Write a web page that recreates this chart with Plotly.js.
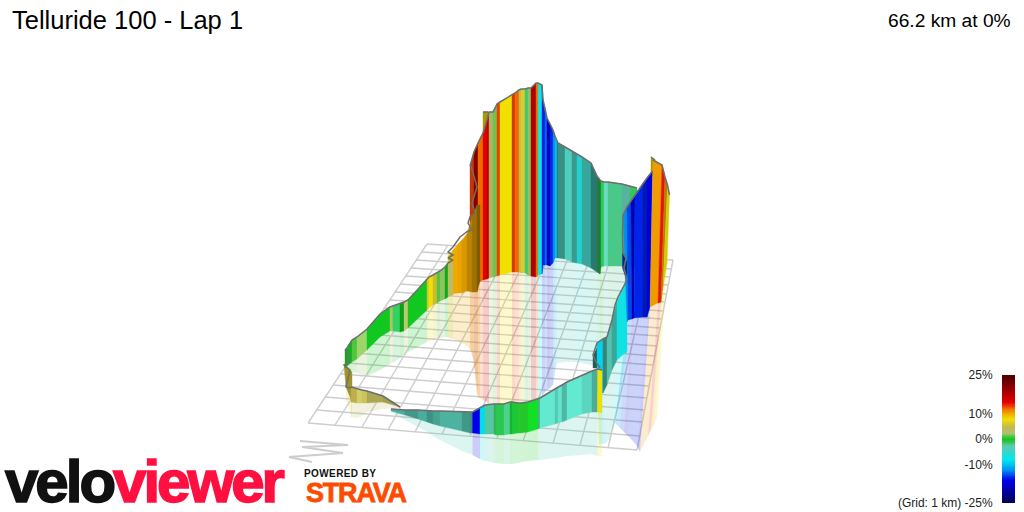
<!DOCTYPE html>
<html><head><meta charset="utf-8">
<script src="https://cdn.plot.ly/plotly-3.0.1.min.js"></script>
<style>html,body{margin:0;padding:0;background:#fff}#g{width:1024px;height:512px}</style></head>
<body><div id="g"></div>
<script>
// Colour scale stops: gradient %, colour
const scaleGrades=[-25,-16,-12,-8,-2.5,0,2.5,5,8,11.5,14.5,18,25];
const scaleColours=['#000050','#0000e8','#0090f0','#00e8f0','#60c8b0','#10c820','#b0c070','#c8b850','#f0e000','#f08000','#e80000','#b00000','#4d0000'];
const barLevels=[25,24,23,22,21,20,19,18,17,16,15,14,13,12,11,10,9,8,7,6,5,4,3,2,1,0,-1,-2,-3,-4,-5,-6,-7,-8,-9,-10,-11,-12,-13,-14,-15,-16,-17,-18,-19,-20,-21,-22,-23,-24,-25];
const barTicks=[25,10,0,-10,-25];
const barLabels=['25%','10%','0%','-10%','(Grid: 1 km) -25%'];

// Ground grid, picture coordinates of its edges
const rowLeftX=[308,317,325,333,341,348,355,361,367,373,379,385,390,395,400,406,411,416,422,427];
const rowLeftY=[423,410,397,385,374,363,353,343,334,325,316,308,300,292,284,276,268,260,252,244];
const rowRightX=[637,640,642,645,647,649,651,653,655,657,659,660,662,663,665,667,668,670,671,673];
const rowRightY=[450,436,422,410,398,386,376,365,356,346,336,328,319,311,302,294,285,277,269,260];
const colFrontX=[308,335,362,388,415,442,470,497,523,553,580,608,637];
const colFrontY=[423,425,427,430,432,434,436,438,441,443,445,448,450];
const colBackX=[427,448,468,488,509,529,550,570,591,611,632,652,673];
const colBackY=[244,245,247,248,249,251,252,253,255,256,257,259,260];

// Back olive fold at top of the main climb
const a0X=[483,488], a0Top=[112,112], a0Bot=[140,140], a0Grade=[8], a0Shade=[0.7];
// Main climb and descent
const aX=[470,474,478,483,487,489,493,497,500,512,515,519,521,525,528,531,536,538,542,543,545,547,550,553,555,557,558,565,572,577,582,591,597,600,601,604,608,622,630,637];
const aTop=[166,152,143,133,120,112,112,104,102,95,93,90,89,89,88,88,83,83,85,100,108,118,124,130,136,142,143,147,151,154,157,163,176,180,181,182,182,184,186,188];
const aBot=[285,285,283,280,279,278,277,276,275,272,272,272,273,273,275,276,277,275,274,265,265,265,266,263,258,258,258,259,262,263,264,268,272,274,267,266,266,266,266,266];
const aGround=[348,362,397,400,402,405,405,405,405,405,405,405,405,405,405,405,405,405,400,395,392,390,388,385,373,363,363,362,362,362,363,365,367,367,365,360,350,340,300,300];
const aGrade=[13,18,12,15,17,3.2,1.5,13,8,13,12,4.5,6.5,-1.5,2,18,12,-7,-15,-15,-13,-19,-15,-12,-10,-4,-3.5,-3.5,-3.5,-6,-4,-4,-1.5,0,-1,-2.5,-1.8,-2.5,-1];
const aShade=[.85,.75,1,1,1,.95,1,1,1,.9,1,1,1,1,1,1,1,1,1,1,1,1,1,1,1,.6,.7,1,.75,.95,.8,.58,.6,.7,1,1.1,1,.9,1];
// Right-hand fold, back
const b0X=[651,655], b0Top=[157,160], b0Bot=[175,175], b0Grade=[8], b0Shade=[.7];
// Right-hand wall, blue side
const b1X=[623,627,631,635,643,647,652.5];
const b1XB=[627,628,632,634,643,647,650];
const b1XG=[615,620,624,628,633,637,640];
const b1Top=[215,207,201,195,183,178,171];
const b1Bot=[322,320,319,318,317,317,307];
const b1Ground=[423,428,432,436,441,446,452];
const b1Grade=[-12,-14,-18,-15,-15,-16];
const b1Shade=[1,1,.9,1,.75,.95];
// Right-hand wall, orange side
const b2X=[653,662,665,667.5,669.5];
const b2XB=[650,658,661,663,667];
const b2XG=[640,648,651,654,657];
const b2Top=[160,165,177,185,195];
const b2Bot=[307,303,302,287,263];
const b2Ground=[452,436,430,425,418];
const b2Grade=[10.5,14,10,8];
const b2Shade=[1,1,.75,.9];
// Cyan descent on the right
const cX=[597,603,607,612,617,625,627];
const cXG=[599,606,609,611,613,615,615];
const cTop=[343,339,337,320,301,284,280];
const cBot=[393,393,385,370,360,353,352];
const cGround=[445,443,440,433,428,423,423];
const cGrade=[-9,-3,-3,-4,-7,-7];
const cShade=[1,.65,.95,.8,1,1];
// Small pieces beside it
const c1X=[597,600], c1Top=[343,341], c1Bot=[349,346], c1Grade=[8], c1Shade=[.95];
const c2X=[593,597,600], c2Top=[356,348,342], c2Bot=[368,368,368], c2Grade=[-3,-3], c2Shade=[.45,.45];
const c3X=[622.5,627], c3Top=[253,262], c3Bot=[268,281], c3Grade=[-14], c3Shade=[.55];
// Front wall
const dX=[472.5,480,485,494,496,504,510,512,518,521,528,538,540,555,558,562,567,582,592,597.5,602];
const dTop=[412,408,405,404,404,404,402,402,403,403,402,399,398,389,387,385,382,375,371,369,370];
const dBot=[433,434,434,434,435,435,434,434,433,433,432,429,428,424,423,422,420,414,412,412,413];
const dGround=[455,459,461,463,463,464,464,464,463,462,461,460,460,458,458,457,456,455,454,456,456];
const dGrade=[-16,-8.5,-2.2,-1.2,-0.8,-1.8,-0.3,-0.4,0.4,0.3,0,-2,-3,-3,-3,-3,-3,-3,-3,8];
const dShade=[1,1,1,.9,1,1.05,.9,1,1,1,1.12,.9,1.15,.98,1.12,.9,1.15,1.05,.85,1];
// Front wedge
const eX=[391,405,418,427,433,440,462,470,472.5];
const eTop=[409,410,410,411,411,411,412,412,412];
const eBot=[411,415,419,422,424,426,431,433,433];
const eGround=[412,420,427,432,436,440,451,454,455];
const eGrade=[-3,-3,-3,-3,-3,-3,-3,-3];
const eShade=[.85,.75,.85,.72,.8,.88,.75,.7];
// Olive wedge on the left
const oX=[351,357,362,367,383,400];
const oTop=[387,389,390,391,396,407];
const oBot=[402,403,403,403,402,407];
const oGround=[417,418,416,412,409,408];
const oGrade=[5,4,4.5,4,4];
const oShade=[.95,1.1,1.05,.9,.85];
const o1X=[344,352], o1XB=[346,352], o1Top=[365,372], o1Bot=[387,402], o1Ground=[400,417], o1Grade=[6], o1Shade=[.75];
// Green wall on the left
const gX=[345,347,352,357,367,380,390,392.7,400,404,408,427,429,433,437,440,445,448,453];
const gTop=[350,348,340,337,329,314,307,306,304,302,300,279,277,275,273,271,267,263,260];
const gBot=[368,366,362,359,350,337,331,331,332,331,328,310,308,305,303,301,299,297,295];
const gGround=[368,369,372,373,376,370,364,363,358,354,352,342,341,340,339,338,337,337,339];
const gGrade=[0,0,1,2,0,0,3.5,-1,0,3,0,6,8,6,1,2,0,3.5];
const gShade=[.85,.9,1,1.1,1,1,1,1.05,.8,1.05,1,1,1,.95,1,1,.85,1];
// Orange wall
const fX=[448,453,458,462,467,472,477,480];
const fTop=[256,250,244,240,234,217,205,205];
const fBot=[296,294,293,293,291,292,292,281];
const fGround=[337,339,341,343,346,352,395,397];
const fGrade=[8,10,10,10,10,10,10];
const fShade=[.9,1,.97,.9,.78,.67,.53];
// Zig-zag outlines where the route folds
const zig1X=[471,477,472,475,470,468,472,468,460,453,448,453,448,453];
const zig1Y=[166,187,203,213,217,223,230,231,237,247,252,255,258,260];
const zig2X=[345,349,347,350,344,350,346,351];
const zig2Y=[350,353,358,362,365,370,387,388];
const zig3X=[623,622.5,623,626,624,627,618,615,612,607,603,597,593,596,600];
const zig3Y=[215,235,253,258,268,280,297,305,320,337,339,343,355,362,368];
// Compass arrow
const arrowX=[300,348,302,343,289,315,null,289,312];
const arrowY=[441,445,447,453,457,455,null,457,462];

function hex(c){return [1,3,5].map(i=>parseInt(c.substr(i,2),16));}
function colourOf(g,s){
  let i=0; while(i<scaleGrades.length-2&&g>scaleGrades[i+1])i++;
  const t=Math.max(0,Math.min(1,(g-scaleGrades[i])/(scaleGrades[i+1]-scaleGrades[i])));
  const a=hex(scaleColours[i]),b=hex(scaleColours[i+1]);
  return a.map((v,k)=>Math.min(255,Math.round((v+(b[k]-v)*t)*s)));
}
const traces=[];
function poly(x,y,fill,lineCol,w){
  traces.push({type:'scatter',mode:'lines',x:x,y:y,fill:'toself',fillcolor:fill,
    line:{color:lineCol,width:w},hoverinfo:'skip',showlegend:false});
}
function wall(X,XB,Top,Bot,Grade,Shade){
  XB=XB||X;
  for(let i=0;i<Grade.length;i++){
    const c='rgb('+colourOf(Grade[i],Shade[i]).join(',')+')';
    poly([X[i],X[i+1],XB[i+1],XB[i],X[i]],[Top[i],Top[i+1],Bot[i+1],Bot[i],Top[i]],c,c,0.4);
  }
}
function curtain(XB,XG,Bot,Ground,Grade){
  XG=XG||XB;
  for(let i=0;i<Grade.length;i++){
    const c='rgba('+colourOf(Grade[i],1).join(',')+',0.2)';
    poly([XB[i],XB[i+1],XG[i+1],XG[i],XB[i]],[Bot[i],Bot[i+1],Ground[i+1],Ground[i],Bot[i]],c,'rgba(0,0,0,0)',0);
  }
}
function line(x,y,col,w){
  traces.push({type:'scatter',mode:'lines',x:x,y:y,line:{color:col,width:w},hoverinfo:'skip',showlegend:false});
}
// grid
const gx=[],gy=[];
rowLeftX.forEach((v,i)=>{gx.push(v,rowRightX[i],null);gy.push(rowLeftY[i],rowRightY[i],null);});
colFrontX.forEach((v,i)=>{gx.push(v,colBackX[i],null);gy.push(colFrontY[i],colBackY[i],null);});
line(gx,gy,'#cdcdcd',1.4);
line(arrowX,arrowY,'#cdcdcd',2);
// curtains
curtain(aX,null,aBot,aGround,aGrade);
curtain(fX,null,fBot,fGround,fGrade);
curtain(gX,null,gBot,gGround,gGrade);
curtain(oX,null,oBot,oGround,oGrade);
curtain(o1XB,null,o1Bot,o1Ground,o1Grade);
curtain(b1XB,b1XG,b1Bot,b1Ground,b1Grade);
curtain(b2XB,b2XG,b2Bot,b2Ground,b2Grade);
curtain(cX,cXG,cBot,cGround,cGrade);
curtain(eX,null,eBot,eGround,eGrade);
curtain(dX,null,dBot,dGround,dGrade);
// walls, back to front
const OUT='#6e6e6e',OW=1.5;
wall(a0X,null,a0Top,a0Bot,a0Grade,a0Shade);
wall(aX,null,aTop,aBot,aGrade,aShade);
wall(fX,null,fTop,fBot,fGrade,fShade);
wall(o1X,o1XB,o1Top,o1Bot,o1Grade,o1Shade);
wall(oX,null,oTop,oBot,oGrade,oShade);
wall(gX,null,gTop,gBot,gGrade,gShade);
wall(c1X,null,c1Top,c1Bot,c1Grade,c1Shade);
wall(c2X,null,c2Top,c2Bot,c2Grade,c2Shade);
wall(cX,null,cTop,cBot,cGrade,cShade);
wall(b0X,null,b0Top,b0Bot,b0Grade,b0Shade);
wall(b1X,b1XB,b1Top,b1Bot,b1Grade,b1Shade);
wall(b2X,b2XB,b2Top,b2Bot,b2Grade,b2Shade);
wall(c3X,null,c3Top,c3Bot,c3Grade,c3Shade);
wall(eX,null,eTop,eBot,eGrade,eShade);
wall(dX,null,dTop,dBot,dGrade,dShade);
// outlines
line(a0X,a0Top,OUT,OW);
line(aX,aTop,OUT,OW);
line(b0X,b0Top,OUT,OW);
line(b1X,b1Top,OUT,OW);
line(b2X,b2Top,OUT,OW);
line(gX,gTop,OUT,OW);
line(oX,oTop,OUT,OW);
line(eX,eTop,OUT,OW);
line(dX,dTop,OUT,OW);
line(zig1X,zig1Y,OUT,OW);
line(zig2X,zig2Y,OUT,OW);
line(zig3X,zig3Y,OUT,OW);
// colour bar
const cs=scaleGrades.map((g,i)=>[(g+25)/50,scaleColours[i]]);
traces.push({type:'heatmap',xaxis:'x2',yaxis:'y2',x:[0,1],y:barLevels,z:barLevels.map(v=>[v,v]),
  colorscale:cs,zmin:-25,zmax:25,showscale:false,zsmooth:'best',hoverinfo:'skip'});

const LOGO='"Liberation Sans",Arial,sans-serif';
const layout={
  width:1024,height:512,margin:{l:0,r:0,t:0,b:0},paper_bgcolor:'#fff',plot_bgcolor:'#fff',showlegend:false,
  font:{family:'"Liberation Sans",Arial,sans-serif',color:'#222'},
  title:{text:'Telluride 100 - Lap 1',x:12/1024,xanchor:'left',y:1-20/512,yanchor:'middle',
    font:{family:'"Liberation Sans",Arial,sans-serif',size:25.5,color:'#000'}},
  xaxis:{range:[0,1024],visible:false,fixedrange:true},
  yaxis:{range:[512,0],visible:false,fixedrange:true},
  xaxis2:{domain:[1002/1024,1015/1024],range:[0,1],visible:false,anchor:'y2',fixedrange:true},
  yaxis2:{domain:[9/512,137/512],range:[-25,25],anchor:'x2',side:'left',showgrid:false,zeroline:false,showline:false,
    ticks:'outside',ticklen:6,tickcolor:'rgba(0,0,0,0)',tickmode:'array',tickvals:barTicks,ticktext:barLabels,tickfont:{size:12,color:'#222'},fixedrange:true},
  annotations:[
    {xref:'x',yref:'y',x:1013,y:20,xanchor:'right',yanchor:'middle',showarrow:false,text:'66.2 km at 0%',font:{size:19.2,color:'#000'}},
    {xref:'x',yref:'y',x:145,y:481,xanchor:'center',yanchor:'middle',showarrow:false,
      text:'<span style="color:#111;letter-spacing:-3px;stroke:#111;stroke-width:1.6px">velo</span><span style="color:#ff1040;letter-spacing:-3px;stroke:#ff1040;stroke-width:1.6px">viewer</span>',
      font:{family:LOGO,size:60,weight:700,color:'#111'}},
    {xref:'x',yref:'y',x:340,y:473,xanchor:'center',yanchor:'middle',showarrow:false,
      text:'<span style="letter-spacing:0.4px">POWERED BY</span>',
      font:{family:LOGO,size:10,weight:700,color:'#111'}},
    {xref:'x',yref:'y',x:356,y:493,xanchor:'center',yanchor:'middle',showarrow:false,
      text:'<span style="letter-spacing:-1.2px;stroke:#fc4c02;stroke-width:0.8px">STRAVA</span>',
      font:{family:LOGO,size:27,weight:700,color:'#fc4c02'}}
  ]
};
Plotly.newPlot('g',traces,layout,{displayModeBar:false,staticPlot:true});
</script></body></html>
